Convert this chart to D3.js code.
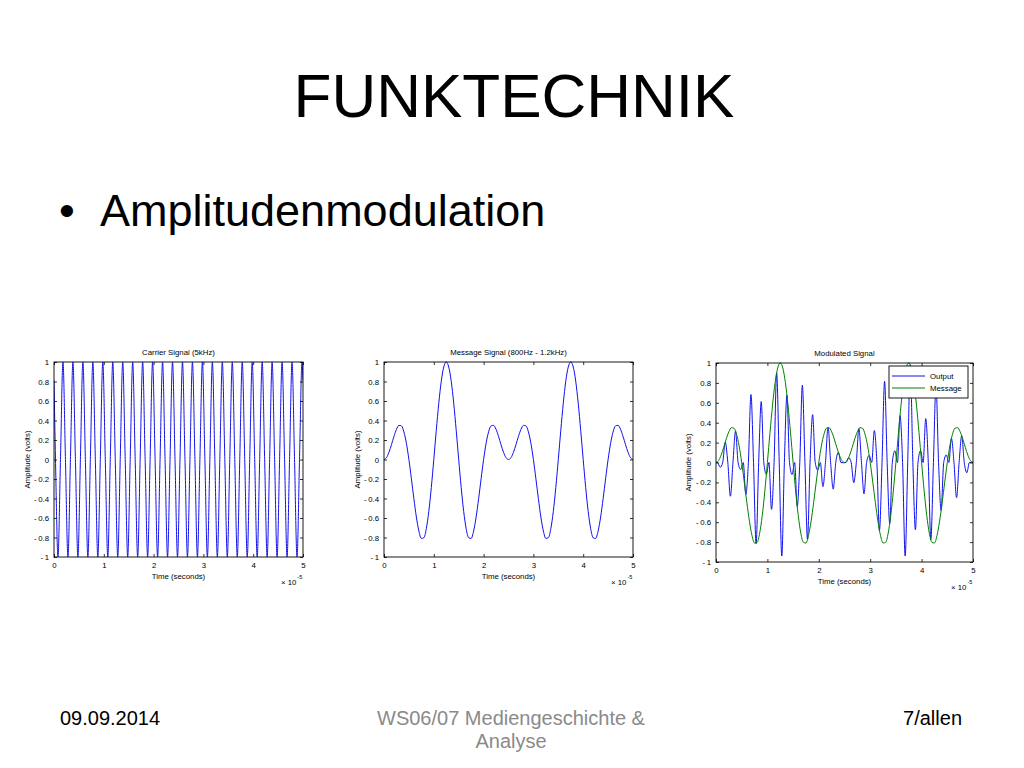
<!DOCTYPE html>
<html>
<head>
<meta charset="utf-8">
<script src="https://cdn.jsdelivr.net/npm/d3@7"></script>
<style>
  html, body { margin: 0; padding: 0; background: #fff; }
  svg { display: block; }
  .ax text { font-family: "Liberation Sans", Arial, sans-serif; font-size: 7.8px; fill: #000; }
  .ax line { stroke: #000; stroke-width: 0.8; }
  .ax path { display: none; }
</style>
</head>
<body>
<svg id="slide" width="1024" height="768"></svg>
<script>
// ---------------- data (time in units of 10^-3 s, amplitude in volts) ----------------
const xTicks = [0, 1, 2, 3, 4, 5];
const yTicks = [-1, -0.8, -0.6, -0.4, -0.2, 0, 0.2, 0.4, 0.6, 0.8, 1];

// sample times for carrier and modulated output (zero crossings and extremes of the carrier)
const sampleTime = [0,
  0.03,0.08,0.13,0.18,0.23,0.28,0.33,0.38,0.43,0.48,
  0.53,0.58,0.63,0.68,0.73,0.78,0.83,0.88,0.93,0.98,
  1.03,1.08,1.13,1.18,1.23,1.28,1.33,1.38,1.43,1.48,
  1.53,1.58,1.63,1.68,1.73,1.78,1.83,1.88,1.93,1.98,
  2.03,2.08,2.13,2.18,2.23,2.28,2.33,2.38,2.43,2.48,
  2.53,2.58,2.63,2.68,2.73,2.78,2.83,2.88,2.93,2.98,
  3.03,3.08,3.13,3.18,3.23,3.28,3.33,3.38,3.43,3.48,
  3.53,3.58,3.63,3.68,3.73,3.78,3.83,3.88,3.93,3.98,
  4.03,4.08,4.13,4.18,4.23,4.28,4.33,4.38,4.43,4.48,
  4.53,4.58,4.63,4.68,4.73,4.78,4.83,4.88,4.93,4.98,
  5];

const carrierValues = [0.81,
  0,-1,0,1,0,-1,0,1,0,-1,
  0,1,0,-1,0,1,0,-1,0,1,
  0,-1,0,1,0,-1,0,1,0,-1,
  0,1,0,-1,0,1,0,-1,0,1,
  0,-1,0,1,0,-1,0,1,0,-1,
  0,1,0,-1,0,1,0,-1,0,1,
  0,-1,0,1,0,-1,0,1,0,-1,
  0,1,0,-1,0,1,0,-1,0,1,
  0,-1,0,1,0,-1,0,1,0,-1,
  0,1,0,-1,0,1,0,-1,0,1,
  0.81];

const outputValues = [0,
  0,-0.048,0,0.203,0,-0.339,0,0.315,0,-0.071,
  0,-0.321,0,0.683,0,-0.816,0,0.612,0,-0.118,
  0,-0.471,0,0.901,0,-0.94,0,0.676,0,-0.120,
  0,-0.441,0,0.776,0,-0.773,0,0.481,0,-0.076,
  0,-0.243,0,0.354,0,-0.268,0,0.103,0,-0.003,
  0,0.048,0,-0.203,0,0.339,0,-0.315,0,0.071,
  0,0.321,0,-0.683,0,0.816,0,-0.612,0,0.118,
  0,0.471,0,-0.94,0,0.982,0,-0.676,0,0.120,
  0,0.441,0,-0.776,0,0.773,0,-0.481,0,0.076,
  0,0.243,0,-0.354,0,0.268,0,-0.103,0,0.003,
  0];

const messageTime = [
  0,0.05,0.1,0.15,0.2,0.25,0.3,0.35,0.4,0.45,0.5,0.55,0.6,0.65,0.7,0.75,0.8,0.85,0.9,0.95,
  1,1.05,1.1,1.15,1.2,1.25,1.3,1.35,1.4,1.45,1.5,1.55,1.6,1.65,1.7,1.75,1.8,1.85,1.9,1.95,
  2,2.05,2.1,2.15,2.2,2.25,2.3,2.35,2.4,2.45,2.5,2.55,2.6,2.65,2.7,2.75,2.8,2.85,2.9,2.95,
  3,3.05,3.1,3.15,3.2,3.25,3.3,3.35,3.4,3.45,3.5,3.55,3.6,3.65,3.7,3.75,3.8,3.85,3.9,3.95,
  4,4.05,4.1,4.15,4.2,4.25,4.3,4.35,4.4,4.45,4.5,4.55,4.6,4.65,4.7,4.75,4.8,4.85,4.9,4.95,5];

const messageValues = [
  0,0.019,0.074,0.152,0.237,0.309,0.350,0.345,0.283,0.166,
  0,-0.197,-0.402,-0.590,-0.733,-0.809,-0.803,-0.709,-0.532,-0.287,
  0,0.299,0.577,0.803,0.949,1.000,0.949,0.803,0.577,0.299,
  0,-0.287,-0.532,-0.709,-0.803,-0.809,-0.733,-0.590,-0.402,-0.197,
  0,0.166,0.283,0.345,0.350,0.309,0.237,0.152,0.074,0.019,
  0,0.019,0.074,0.152,0.237,0.309,0.350,0.345,0.283,0.166,
  0,-0.197,-0.402,-0.590,-0.733,-0.809,-0.803,-0.709,-0.532,-0.287,
  0,0.299,0.577,0.803,0.949,1.000,0.949,0.803,0.577,0.299,
  0,-0.287,-0.532,-0.709,-0.803,-0.809,-0.733,-0.590,-0.402,-0.197,
  0,0.166,0.283,0.345,0.350,0.309,0.237,0.152,0.074,0.019,
  0];

const panelTitles = ["Carrier Signal (5kHz)", "Message Signal (800Hz - 1.2kHz)", "Modulated Signal"];
const legendLabels = ["Output", "Message"];
const xAxisLabel = "Time (seconds)";
const yAxisLabel = "Amplitude (volts)";
const xExponent = "-5";

// ---------------- drawing ----------------
const svg = d3.select("#slide");
const SANS = '"Liberation Sans", Arial, Helvetica, sans-serif';
const BLUE = "#1010f0", GREEN = "#008000";
const SMALL = 7.8;

svg.append("rect").attr("width", 1024).attr("height", 768).attr("fill", "#fff");

// Slide texts
svg.append("text").attr("x", 514).attr("y", 117).attr("text-anchor", "middle")
  .attr("font-family", SANS).attr("font-size", 62).text("FUNKTECHNIK");
svg.append("text").attr("x", 59).attr("y", 226)
  .attr("font-family", SANS).attr("font-size", 45).text("\u2022");
svg.append("text").attr("x", 100).attr("y", 226)
  .attr("font-family", SANS).attr("font-size", 45).text("Amplitudenmodulation");

svg.append("text").attr("x", 60).attr("y", 725)
  .attr("font-family", SANS).attr("font-size", 20).text("09.09.2014");
svg.append("text").attr("x", 511).attr("y", 725).attr("text-anchor", "middle").attr("fill", "#8a8a8a")
  .attr("font-family", SANS).attr("font-size", 20).text("WS06/07 Mediengeschichte &");
svg.append("text").attr("x", 511).attr("y", 748).attr("text-anchor", "middle").attr("fill", "#8a8a8a")
  .attr("font-family", SANS).attr("font-size", 20).text("Analyse");
svg.append("text").attr("x", 962).attr("y", 725).attr("text-anchor", "end")
  .attr("font-family", SANS).attr("font-size", 20).text("7/allen");

const fmtY = d => d === 0 ? "0" : (d < 0 ? "-\u2009" : "") + Math.abs(d);

function panel(cfg, idx) {
  const x = d3.scaleLinear().domain([0, 5]).range([cfg.left, cfg.right]);
  const y = d3.scaleLinear().domain([-1, 1]).range([cfg.bottom, cfg.top]);
  const g = svg.append("g");
  const clipId = "clip" + idx;
  g.append("clipPath").attr("id", clipId).append("rect")
    .attr("x", cfg.left).attr("y", cfg.top - 1)
    .attr("width", cfg.right - cfg.left).attr("height", cfg.bottom - cfg.top + 2);

  const line = d3.line().x(d => x(d[0])).y(d => y(d[1])).curve(d3.curveMonotoneX);

  cfg.series.forEach(s => {
    const pts = s.t.map((t, i) => [t, s.v[i]]);
    g.append("path").attr("d", line(pts)).attr("fill", "none")
      .attr("stroke", s.color).attr("stroke-width", 1).attr("clip-path", `url(#${clipId})`);
  });

  // axes (MATLAB-style inward ticks on all four sides)
  g.append("g").attr("class", "ax").attr("transform", `translate(0,${cfg.bottom})`)
    .call(d3.axisBottom(x).tickValues(xTicks).tickSize(-3).tickPadding(5).tickFormat(d3.format("d")));
  g.append("g").attr("class", "ax").attr("transform", `translate(0,${cfg.top})`)
    .call(d3.axisTop(x).tickValues(xTicks).tickSize(-3).tickFormat(() => ""));
  g.append("g").attr("class", "ax").attr("transform", `translate(${cfg.left},0)`)
    .call(d3.axisLeft(y).tickValues(yTicks).tickSize(-3).tickPadding(5).tickFormat(fmtY));
  g.append("g").attr("class", "ax").attr("transform", `translate(${cfg.right},0)`)
    .call(d3.axisRight(y).tickValues(yTicks).tickSize(-3).tickFormat(() => ""));

  g.append("rect").attr("x", cfg.left).attr("y", cfg.top)
    .attr("width", cfg.right - cfg.left).attr("height", cfg.bottom - cfg.top)
    .attr("fill", "none").attr("stroke", "#000").attr("stroke-width", 0.9);

  const cx = (cfg.left + cfg.right) / 2;
  g.append("text").attr("x", cx).attr("y", cfg.top - 7).attr("text-anchor", "middle")
    .attr("font-family", SANS).attr("font-size", SMALL).text(cfg.title);
  g.append("text").attr("x", cx).attr("y", cfg.bottom + 22).attr("text-anchor", "middle")
    .attr("font-family", SANS).attr("font-size", SMALL).text(xAxisLabel);
  g.append("text").attr("transform", `translate(${cfg.ylabX},${(cfg.top + cfg.bottom) / 2}) rotate(-90)`)
    .attr("text-anchor", "middle").attr("dy", "0.35em")
    .attr("font-family", SANS).attr("font-size", SMALL).text(yAxisLabel);
  const ex = g.append("text").attr("x", cfg.right - 22).attr("y", cfg.bottom + 28)
    .attr("font-family", SANS).attr("font-size", SMALL);
  ex.append("tspan").text("\u00d7 10");
  ex.append("tspan").attr("dx", 1).attr("dy", -6).attr("font-size", 5.5).text(xExponent);

  if (cfg.legend) {
    const lw = 79, lh = 32;
    const lx = cfg.right - 5 - lw, ly = cfg.top + 3;
    const lg = g.append("g");
    lg.append("rect").attr("x", lx).attr("y", ly).attr("width", lw).attr("height", lh)
      .attr("fill", "#fff").attr("stroke", "#000").attr("stroke-width", 0.9);
    cfg.legend.forEach((l, i) => {
      const yy = ly + 10 + i * 12;
      lg.append("line").attr("x1", lx + 3).attr("x2", lx + 36).attr("y1", yy).attr("y2", yy)
        .attr("stroke", l.color).attr("stroke-width", 1);
      lg.append("text").attr("x", lx + 41).attr("y", yy).attr("dy", "0.35em")
        .attr("font-family", SANS).attr("font-size", SMALL).text(l.label);
    });
  }
}

const panels = [
  { left: 54, right: 303, top: 362, bottom: 557, ylabX: 27, title: panelTitles[0],
    series: [{ t: sampleTime, v: carrierValues, color: BLUE }] },
  { left: 384, right: 633, top: 362, bottom: 557, ylabX: 357, title: panelTitles[1],
    series: [{ t: messageTime, v: messageValues, color: BLUE }] },
  { left: 716, right: 973, top: 363, bottom: 562, ylabX: 688, title: panelTitles[2],
    series: [{ t: sampleTime, v: outputValues, color: BLUE },
             { t: messageTime, v: messageValues, color: GREEN }],
    legend: [{ label: legendLabels[0], color: BLUE }, { label: legendLabels[1], color: GREEN }] }
];
panels.forEach(panel);
</script>
</body>
</html>
